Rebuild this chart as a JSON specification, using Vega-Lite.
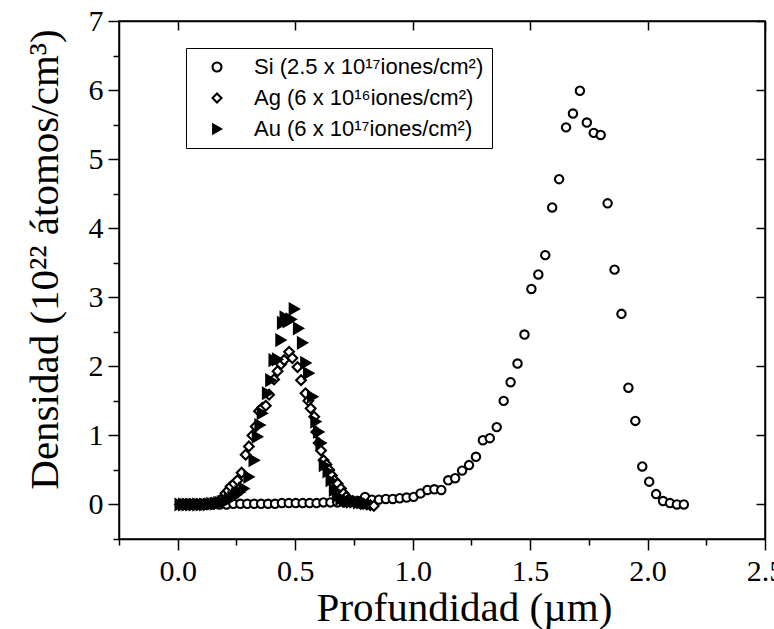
{
  "$schema": "https://vega.github.io/schema/vega-lite/v6.json",
  "width": 646,
  "height": 518,
  "autosize": {"type": "none"},
  "padding": {"left": 119, "top": 21, "right": 9, "bottom": 90},
  "background": "white",
  "config": {
    "view": {"stroke": "black", "strokeWidth": 1.5},
    "axis": {
      "domainColor": "black", "domainWidth": 1.5, "tickColor": "black", "tickWidth": 1.5,
      "labelColor": "black", "titleColor": "black", "labelFont": "Liberation Serif", "titleFont": "Liberation Serif",
      "labelFontSize": 30, "titleFontSize": 41, "titleFontWeight": "normal", "grid": false
    },
    "legend": {"orient": "none", "legendX": 67, "legendY": 27, "padding": 8,
      "strokeColor": "black", "fillColor": "white",
      "symbolSize": 80, "symbolOffset": 12, "labelOffset": 26, "labelFont": "Liberation Sans", "labelFontSize": 22,
      "labelColor": "black", "labelLimit": 400, "rowPadding": 9, "symbolStrokeWidth": 2.1}
  },
  "data": {"values": [
    {"s":"Si","x":0.0305,"y":0.0},{"s":"Si","x":0.060,"y":0.0},{"s":"Si","x":0.0895,"y":0.0},{"s":"Si","x":0.119,"y":0.0},
    {"s":"Si","x":0.1485,"y":0.0},{"s":"Si","x":0.178,"y":0.0},{"s":"Si","x":0.2075,"y":0.0},{"s":"Si","x":0.237,"y":0.01},
    {"s":"Si","x":0.2665,"y":0.01},{"s":"Si","x":0.296,"y":0.01},{"s":"Si","x":0.3255,"y":0.01},{"s":"Si","x":0.355,"y":0.01},
    {"s":"Si","x":0.3845,"y":0.01},{"s":"Si","x":0.414,"y":0.01},{"s":"Si","x":0.4435,"y":0.02},{"s":"Si","x":0.473,"y":0.02},
    {"s":"Si","x":0.5025,"y":0.02},{"s":"Si","x":0.532,"y":0.02},{"s":"Si","x":0.5615,"y":0.02},{"s":"Si","x":0.591,"y":0.02},
    {"s":"Si","x":0.6205,"y":0.03},{"s":"Si","x":0.65,"y":0.03},{"s":"Si","x":0.6795,"y":0.03},{"s":"Si","x":0.709,"y":0.03},
    {"s":"Si","x":0.7385,"y":0.04},{"s":"Si","x":0.768,"y":0.05},{"s":"Si","x":0.7975,"y":0.11},{"s":"Si","x":0.827,"y":0.07},
    {"s":"Si","x":0.8565,"y":0.07},{"s":"Si","x":0.886,"y":0.08},{"s":"Si","x":0.9155,"y":0.08},{"s":"Si","x":0.945,"y":0.09},
    {"s":"Si","x":0.9745,"y":0.10},{"s":"Si","x":1.004,"y":0.11},{"s":"Si","x":1.0335,"y":0.16},{"s":"Si","x":1.063,"y":0.21},
    {"s":"Si","x":1.0925,"y":0.22},{"s":"Si","x":1.122,"y":0.21},{"s":"Si","x":1.1515,"y":0.35},{"s":"Si","x":1.181,"y":0.38},
    {"s":"Si","x":1.2105,"y":0.49},{"s":"Si","x":1.24,"y":0.57},{"s":"Si","x":1.2695,"y":0.69},{"s":"Si","x":1.299,"y":0.93},
    {"s":"Si","x":1.3285,"y":0.96},{"s":"Si","x":1.358,"y":1.12},{"s":"Si","x":1.3875,"y":1.50},{"s":"Si","x":1.417,"y":1.77},
    {"s":"Si","x":1.4465,"y":2.04},{"s":"Si","x":1.476,"y":2.46},{"s":"Si","x":1.5055,"y":3.12},{"s":"Si","x":1.535,"y":3.33},
    {"s":"Si","x":1.5645,"y":3.61},{"s":"Si","x":1.594,"y":4.30},{"s":"Si","x":1.6235,"y":4.71},{"s":"Si","x":1.653,"y":5.46},
    {"s":"Si","x":1.6825,"y":5.66},{"s":"Si","x":1.712,"y":5.99},{"s":"Si","x":1.7415,"y":5.53},{"s":"Si","x":1.771,"y":5.38},
    {"s":"Si","x":1.8005,"y":5.35},{"s":"Si","x":1.83,"y":4.36},{"s":"Si","x":1.8595,"y":3.40},{"s":"Si","x":1.889,"y":2.76},
    {"s":"Si","x":1.9185,"y":1.69},{"s":"Si","x":1.948,"y":1.21},{"s":"Si","x":1.9775,"y":0.55},{"s":"Si","x":2.007,"y":0.33},
    {"s":"Si","x":2.0365,"y":0.15},{"s":"Si","x":2.066,"y":0.05},{"s":"Si","x":2.0955,"y":0.02},{"s":"Si","x":2.125,"y":0.0},
    {"s":"Si","x":2.1545,"y":0.0},

    {"s":"Ag","x":0.010,"y":0.0},{"s":"Ag","x":0.025,"y":0.0},{"s":"Ag","x":0.040,"y":0.0},{"s":"Ag","x":0.055,"y":0.0},
    {"s":"Ag","x":0.070,"y":0.0},{"s":"Ag","x":0.085,"y":0.0},{"s":"Ag","x":0.100,"y":0.0},{"s":"Ag","x":0.115,"y":0.01},
    {"s":"Ag","x":0.130,"y":0.01},{"s":"Ag","x":0.145,"y":0.02},{"s":"Ag","x":0.160,"y":0.03},{"s":"Ag","x":0.175,"y":0.05},
    {"s":"Ag","x":0.190,"y":0.09},{"s":"Ag","x":0.203,"y":0.16},{"s":"Ag","x":0.214,"y":0.20},{"s":"Ag","x":0.225,"y":0.26},
    {"s":"Ag","x":0.240,"y":0.30},{"s":"Ag","x":0.254,"y":0.35},{"s":"Ag","x":0.272,"y":0.46},{"s":"Ag","x":0.289,"y":0.72},
    {"s":"Ag","x":0.303,"y":0.84},{"s":"Ag","x":0.318,"y":1.00},{"s":"Ag","x":0.332,"y":1.13},{"s":"Ag","x":0.346,"y":1.35},
    {"s":"Ag","x":0.360,"y":1.40},{"s":"Ag","x":0.375,"y":1.43},{"s":"Ag","x":0.389,"y":1.59},{"s":"Ag","x":0.410,"y":1.81},
    {"s":"Ag","x":0.425,"y":1.93},{"s":"Ag","x":0.440,"y":2.03},{"s":"Ag","x":0.453,"y":2.09},{"s":"Ag","x":0.474,"y":2.21},
    {"s":"Ag","x":0.488,"y":2.12},{"s":"Ag","x":0.510,"y":1.99},{"s":"Ag","x":0.525,"y":1.80},{"s":"Ag","x":0.544,"y":1.61},
    {"s":"Ag","x":0.556,"y":1.50},{"s":"Ag","x":0.566,"y":1.39},{"s":"Ag","x":0.581,"y":1.27},{"s":"Ag","x":0.590,"y":1.05},
    {"s":"Ag","x":0.600,"y":0.89},{"s":"Ag","x":0.610,"y":0.78},{"s":"Ag","x":0.621,"y":0.64},{"s":"Ag","x":0.633,"y":0.58},
    {"s":"Ag","x":0.645,"y":0.50},{"s":"Ag","x":0.656,"y":0.42},{"s":"Ag","x":0.667,"y":0.35},{"s":"Ag","x":0.681,"y":0.30},
    {"s":"Ag","x":0.695,"y":0.23},{"s":"Ag","x":0.706,"y":0.16},{"s":"Ag","x":0.717,"y":0.11},{"s":"Ag","x":0.730,"y":0.07},
    {"s":"Ag","x":0.745,"y":0.05},{"s":"Ag","x":0.760,"y":0.03},{"s":"Ag","x":0.775,"y":0.02},{"s":"Ag","x":0.790,"y":0.01},
    {"s":"Ag","x":0.805,"y":0.0},{"s":"Ag","x":0.820,"y":-0.01},{"s":"Ag","x":0.835,"y":-0.02},

    {"s":"Au","x":0.010,"y":0.0},{"s":"Au","x":0.025,"y":0.0},{"s":"Au","x":0.040,"y":0.0},{"s":"Au","x":0.055,"y":0.0},
    {"s":"Au","x":0.070,"y":0.0},{"s":"Au","x":0.085,"y":0.0},{"s":"Au","x":0.100,"y":0.0},{"s":"Au","x":0.115,"y":0.0},
    {"s":"Au","x":0.130,"y":0.0},{"s":"Au","x":0.145,"y":0.01},{"s":"Au","x":0.160,"y":0.01},{"s":"Au","x":0.175,"y":0.02},
    {"s":"Au","x":0.190,"y":0.03},{"s":"Au","x":0.205,"y":0.05},{"s":"Au","x":0.220,"y":0.07},{"s":"Au","x":0.235,"y":0.10},
    {"s":"Au","x":0.250,"y":0.14},{"s":"Au","x":0.265,"y":0.18},{"s":"Au","x":0.282,"y":0.23},{"s":"Au","x":0.303,"y":0.40},
    {"s":"Au","x":0.325,"y":0.64},{"s":"Au","x":0.339,"y":0.98},{"s":"Au","x":0.350,"y":1.15},{"s":"Au","x":0.360,"y":1.32},
    {"s":"Au","x":0.382,"y":1.61},{"s":"Au","x":0.396,"y":1.80},{"s":"Au","x":0.410,"y":2.09},{"s":"Au","x":0.425,"y":2.10},
    {"s":"Au","x":0.439,"y":2.38},{"s":"Au","x":0.446,"y":2.63},{"s":"Au","x":0.457,"y":2.71},{"s":"Au","x":0.470,"y":2.65},
    {"s":"Au","x":0.483,"y":2.68},{"s":"Au","x":0.496,"y":2.83},{"s":"Au","x":0.514,"y":2.55},{"s":"Au","x":0.531,"y":2.34},
    {"s":"Au","x":0.545,"y":2.05},{"s":"Au","x":0.557,"y":1.90},{"s":"Au","x":0.574,"y":1.56},{"s":"Au","x":0.588,"y":1.20},
    {"s":"Au","x":0.600,"y":1.05},{"s":"Au","x":0.610,"y":0.89},{"s":"Au","x":0.624,"y":0.57},{"s":"Au","x":0.640,"y":0.48},
    {"s":"Au","x":0.653,"y":0.35},{"s":"Au","x":0.667,"y":0.21},{"s":"Au","x":0.680,"y":0.12},{"s":"Au","x":0.695,"y":0.08},
    {"s":"Au","x":0.710,"y":0.06},{"s":"Au","x":0.725,"y":0.05},{"s":"Au","x":0.740,"y":0.04},{"s":"Au","x":0.755,"y":0.04},
    {"s":"Au","x":0.770,"y":0.03},{"s":"Au","x":0.785,"y":0.03},{"s":"Au","x":0.800,"y":0.02}
  ]},
  "resolve": {"axis": {"x": "independent", "y": "independent"}},
  "layer": [
    {
      "mark": {"type": "point", "filled": true, "strokeWidth": 2.1, "opacity": 1},
      "encoding": {
        "x": {"field": "x", "type": "quantitative",
          "scale": {"domain": [-0.25, 2.5], "nice": false, "zero": false},
          "axis": {"orient": "bottom", "title": "Profundidad (µm)",
            "values": [-0.25, 0, 0.25, 0.5, 0.75, 1, 1.25, 1.5, 1.75, 2, 2.25, 2.5],
            "labelExpr": "abs(datum.value*2 - round(datum.value*2)) < 0.001 ? format(datum.value, '.1f') : ''",
            "tickSize": {"condition": {"test": "abs(datum.value*2 - round(datum.value*2)) < 0.001", "value": 11}, "value": 6},
            "labelPadding": 6, "titlePadding": 2, "titleX": 345, "labelFlush": false, "labelOverlap": false}},
        "y": {"field": "y", "type": "quantitative",
          "scale": {"domain": [-0.5, 7], "nice": false, "zero": false},
          "axis": {"orient": "left", "title": "Densidad (10²² átomos/cm³)",
            "values": [-0.5, 0, 0.5, 1, 1.5, 2, 2.5, 3, 3.5, 4, 4.5, 5, 5.5, 6, 6.5, 7],
            "labelExpr": "abs(datum.value - round(datum.value)) < 0.001 ? format(datum.value, 'd') : ''",
            "tickSize": {"condition": {"test": "abs(datum.value - round(datum.value)) < 0.001", "value": 11}, "value": 6},
            "labelPadding": 5, "titlePadding": 22, "titleY": 238, "labelFlush": false, "labelOverlap": false}},
        "shape": {"field": "s", "type": "nominal",
          "scale": {"domain": ["Si", "Ag", "Au"], "range": ["circle", "diamond", "triangle-right"]},
          "legend": {"title": null,
            "labelExpr": "datum.value === 'Si' ? 'Si (2.5 x 10¹⁷iones/cm²)' : datum.value === 'Ag' ? 'Ag (6 x 10¹⁶iones/cm²)' : 'Au (6 x 10¹⁷iones/cm²)'"}},
        "fill": {"field": "s", "type": "nominal",
          "scale": {"domain": ["Si", "Ag", "Au"], "range": ["white", "white", "black"]},
          "legend": {"title": null,
            "labelExpr": "datum.value === 'Si' ? 'Si (2.5 x 10¹⁷iones/cm²)' : datum.value === 'Ag' ? 'Ag (6 x 10¹⁶iones/cm²)' : 'Au (6 x 10¹⁷iones/cm²)'"}},
        "stroke": {"field": "s", "type": "nominal",
          "scale": {"domain": ["Si", "Ag", "Au"], "range": ["black", "black", "black"]},
          "legend": {"title": null,
            "labelExpr": "datum.value === 'Si' ? 'Si (2.5 x 10¹⁷iones/cm²)' : datum.value === 'Ag' ? 'Ag (6 x 10¹⁶iones/cm²)' : 'Au (6 x 10¹⁷iones/cm²)'"}},
        "size": {"condition": [{"test": "datum.s === 'Au'", "value": 110}, {"test": "datum.s === 'Ag'", "value": 95}], "value": 70}
      }
    },
    {
      "mark": {"type": "point", "opacity": 0},
      "encoding": {
        "x": {"field": "x", "type": "quantitative",
          "scale": {"domain": [-0.25, 2.5], "nice": false, "zero": false},
          "axis": {"orient": "top", "title": null, "labels": false,
            "values": [0, 0.5, 1, 1.5, 2, 2.5], "tickSize": -9}},
        "y": {"field": "y", "type": "quantitative",
          "scale": {"domain": [-0.5, 7], "nice": false, "zero": false},
          "axis": {"orient": "right", "title": null, "labels": false,
            "values": [0, 1, 2, 3, 4, 5, 6, 7], "tickSize": -9}}
      }
    }
  ]
}
